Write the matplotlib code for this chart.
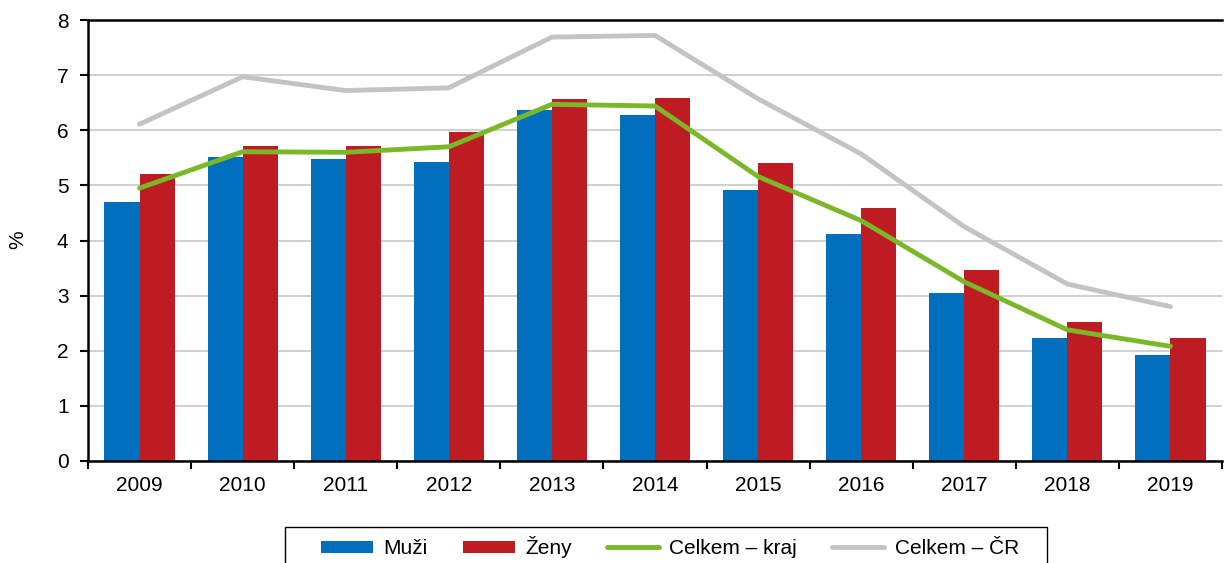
import matplotlib
matplotlib.use("Agg")
import matplotlib.pyplot as plt
from matplotlib.patches import Rectangle
import numpy as np

plt.rcParams['font.family'] = ['Liberation Sans', 'DejaVu Sans']

years = ["2009", "2010", "2011", "2012", "2013", "2014", "2015", "2016", "2017", "2018", "2019"]
muzi = [4.70, 5.51, 5.47, 5.42, 6.37, 6.27, 4.92, 4.12, 3.04, 2.23, 1.93]
zeny = [5.20, 5.72, 5.71, 5.97, 6.56, 6.59, 5.40, 4.59, 3.46, 2.52, 2.23]
kraj = [4.95, 5.61, 5.60, 5.70, 6.47, 6.44, 5.16, 4.36, 3.25, 2.38, 2.08]
cr = [6.11, 6.97, 6.72, 6.77, 7.69, 7.72, 6.57, 5.57, 4.25, 3.21, 2.80]

fig = plt.figure(figsize=(12.28, 5.63), dpi=100)
ax = fig.add_axes([88/1228, 1-461/563, (1222-88)/1228, (461-20)/563])

x = np.arange(len(years))
w = 0.34
b1 = ax.bar(x - w/2, muzi, w, color='#0070BE', label='Muži', zorder=2)
b2 = ax.bar(x + w/2, zeny, w, color='#BE1B23', label='Ženy', zorder=2)
l1, = ax.plot(x, kraj, color='#7AB829', lw=3.5, label='Celkem – kraj', zorder=3, solid_capstyle='round')
l2, = ax.plot(x, cr, color='#C3C3C3', lw=3.5, label='Celkem – ČR', zorder=3, solid_capstyle='round')

ax.set_xlim(-0.5, len(years) - 0.5)
ax.set_ylim(0, 8)
ax.set_yticks(range(0, 9))
ax.yaxis.grid(True, color='#C8C8C8', lw=1.2, zorder=0)
ax.set_axisbelow(True)

ax.set_xticks(x)
ax.set_xticklabels(years)
ax.tick_params(axis='x', length=0, labelsize=15, pad=11)
ax.set_xticks(np.arange(-0.5, len(years) + 0.5, 1), minor=True)
ax.tick_params(axis='x', which='minor', length=6, width=1.5, direction='out')
ax.tick_params(axis='y', length=6, width=1.5, direction='out', labelsize=15, pad=8)

for s in ['left', 'bottom', 'top']:
    ax.spines[s].set_linewidth(1.8)
    ax.spines[s].set_color('black')
ax.spines['right'].set_visible(False)

fig.text(18/1228, 1-240/563, '%', rotation=90, fontsize=15, ha='center', va='center')

leg = fig.legend(handles=[b1, b2, l1, l2], loc='center', bbox_to_anchor=(670/1228, 1-547/563), ncol=4,
                 frameon=False, fontsize=15,
                 handlelength=2.5, handleheight=0.5, columnspacing=1.68, handletextpad=0.5,
                 borderpad=0, borderaxespad=0)

fig.patches.append(Rectangle((285/1228, -0.05), (1047-285)/1228, 0.05 + 1 - 527/563,
                             transform=fig.transFigure, fill=False, ec='black', lw=1.0))

fig.savefig('out.png', dpi=100)
